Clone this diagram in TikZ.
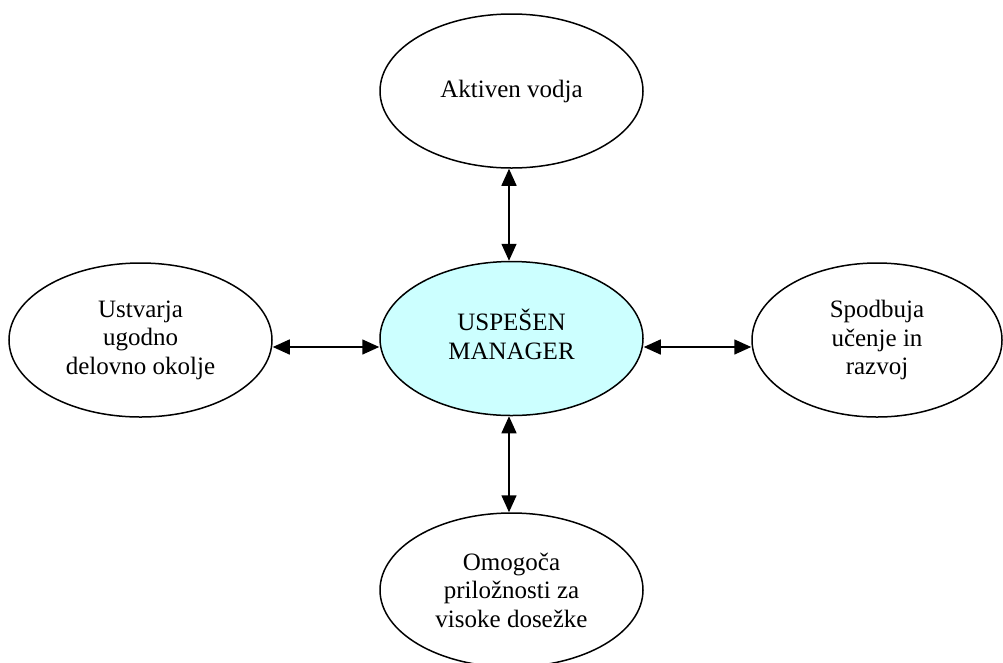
\documentclass[tikz,border=0pt]{standalone}
\usepackage{fontspec}
\setmainfont{Liberation Serif}
\usetikzlibrary{shapes.geometric,arrows.meta}
\definecolor{hubfill}{HTML}{CCFFFF}
\begin{document}
\begin{tikzpicture}[x=1pt,y=-1pt,
  bubble/.style={ellipse,draw=black,line width=1.5pt,minimum width=263pt,
    minimum height=154pt,inner sep=0pt,align=center,
    font=\fontsize{25}{28.5}\selectfont},
  link/.style={line width=1.5pt,{Triangle[length=17pt,width=15pt]}-{Triangle[length=17pt,width=15pt]}}]
  \useasboundingbox (0,0) rectangle (1003,662);
  % central goal and its four qualities
  \node[bubble,fill=hubfill] (hub) at (511.5,338.5)
    {\raisebox{-5pt}{\begin{tabular}{@{}c@{}}USPEŠEN\\MANAGER\end{tabular}}};
  \node[bubble] (lead) at (511.5,91) {Aktiven vodja};
  \node[bubble] (env) at (140.5,340) {Ustvarja\\ugodno\\delovno okolje};
  \node[bubble,minimum width=250pt] (learn) at (877,340) {Spodbuja\\učenje in\\razvoj};
  \node[bubble] (perf) at (511.5,590) {Omogoča\\priložnosti za\\visoke dosežke};
  % two-way links
  \draw[link] ([xshift=-2.5pt]lead.south) -- ([xshift=-2.5pt]hub.north);
  \draw[link] ([xshift=-2.5pt]hub.south) -- ([xshift=-2.5pt]perf.north);
  \draw[link] ([yshift=-7pt]env.east) -- ([yshift=-8.5pt]hub.west);
  \draw[link] ([yshift=-8.5pt]hub.east) -- ([yshift=-7pt]learn.west);
\end{tikzpicture}
\end{document}
